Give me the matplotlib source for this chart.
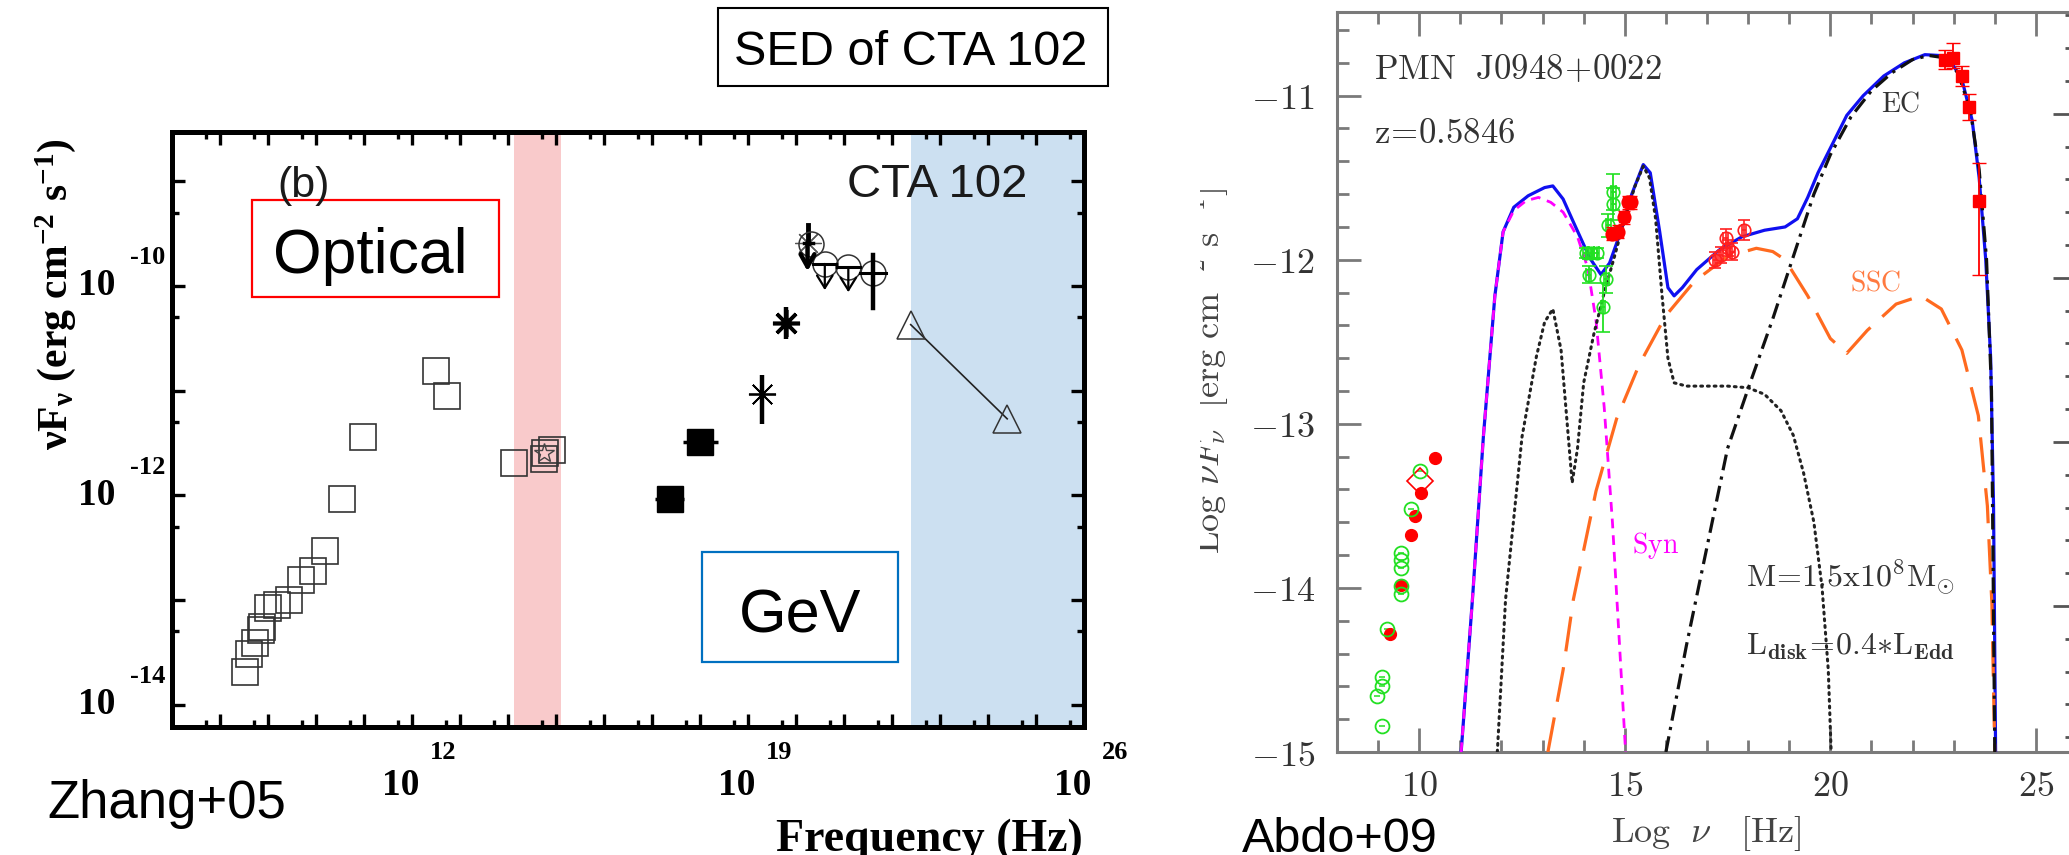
import numpy as np
import matplotlib
matplotlib.use("Agg")
import matplotlib.pyplot as plt
from matplotlib.patches import Rectangle
from matplotlib.ticker import FixedLocator, NullFormatter
from matplotlib.transforms import offset_copy, Bbox

plt.rcParams['mathtext.fontset'] = 'custom'
plt.rcParams['mathtext.bf'] = 'Liberation Serif:bold'
plt.rcParams['mathtext.rm'] = 'Liberation Serif:bold'
plt.rcParams['mathtext.it'] = 'Liberation Serif:bold'

# ---------------- left panel data (log10 nu, log10 nuFnu) ----------------
sq_lx = [8.53, 8.60, 8.72, 8.85, 8.87, 9.01, 9.19, 9.44, 9.68, 9.94, 10.19,
         10.54, 10.97, 12.49, 12.73, 14.13, 14.74, 14.78, 14.92]
sq_ly = [-13.69, -13.52, -13.41, -13.29, -13.26, -13.08, -13.05, -13.00, -12.81,
         -12.72, -12.53, -12.04, -11.44, -10.81, -11.05, -11.69, -11.65, -11.60, -11.57]
star_lx, star_ly = [14.74], [-11.60]

xsq_lx = [17.37, 18.01]
xsq_ly = [-12.04, -11.49]
xsq_dx = [0.30, 0.36]

ast_lx = [19.30, 19.80]
ast_ly = [-11.03, -10.35]
ast_up = [0.18, 0.15]
ast_dn = [0.29, 0.16]
ast_mew = [1.3, 2.6]

faint_lx, faint_ly = 20.24, -9.59
faint_top, faint_end = -9.42, -9.86

circ_lx = [20.31, 20.60, 21.09, 21.61]
circ_ly = [-9.60, -9.79, -9.82, -9.88]
ul_lx = [20.60, 21.09]
ul_from = [-9.79, -9.82]
ul_to = [-10.04, -10.06]
circ_dx = [0.0, 0.24, 0.24, 0.27]
c4_up, c4_dn = 0.18, 0.33

tri_lx = [22.39, 24.40]
tri_ly = [-10.37, -11.27]

opt_band = (14.117, 15.106)
gev_band = (22.39, 26.0)

x_label_exp = [12, 19, 26]
y_label_exp = [-10, -12, -14]

# ---------------- right panel data (Abdo+09) ----------------
tot_x = [11.02, 11.3, 11.56, 11.84, 12.04, 12.3, 12.65, 13.05, 13.25, 13.5, 13.75,
         14.15, 14.42, 14.63, 14.9, 15.17, 15.45, 15.62, 15.85, 16.05, 16.2, 16.4,
         16.75, 17.3, 17.85, 18.4, 18.9, 19.2, 19.45, 19.7, 20.0, 20.4, 20.8, 21.3,
         21.8, 22.3, 22.65, 22.95, 23.2, 23.45, 23.62, 23.78, 23.9, 23.97, 24.02]
tot_y = [-15.0, -14.05, -13.08, -12.22, -11.83, -11.68, -11.61, -11.56, -11.55,
         -11.63, -11.77, -11.99, -12.09, -12.02, -11.83, -11.6, -11.42, -11.47,
         -11.83, -12.17, -12.22, -12.17, -12.06, -11.94, -11.86, -11.82, -11.8,
         -11.75, -11.62, -11.47, -11.32, -11.12, -11.0, -10.88, -10.8, -10.75,
         -10.755, -10.8, -10.9, -11.15, -11.5, -12.0, -12.6, -13.5, -15.0]

syn_x = [11.02, 11.3, 11.56, 11.84, 12.04, 12.3, 12.6, 12.9, 13.2, 13.5, 13.85,
         14.1, 14.3, 14.5, 14.7, 14.85, 15.02]
syn_y = [-15.0, -14.05, -13.08, -12.22, -11.83, -11.7, -11.64, -11.62, -11.65,
         -11.71, -11.86, -12.05, -12.37, -12.9, -13.6, -14.25, -15.0]

disk_x = [11.9, 12.1, 12.5, 12.85, 13.05, 13.25, 13.45, 13.6, 13.72, 13.85, 14.0,
          14.25, 14.5, 14.75, 15.0, 15.25, 15.45, 15.6, 15.75, 15.9, 16.05, 16.2,
          16.5, 17.0, 17.5, 18.0, 18.4, 18.8, 19.1, 19.35, 19.6, 19.8, 19.95, 20.02]
disk_y = [-15.0, -14.07, -13.08, -12.59, -12.38, -12.3, -12.55, -13.0, -13.36,
          -13.15, -12.75, -12.45, -12.2, -11.98, -11.75, -11.55, -11.43, -11.5,
          -11.75, -12.2, -12.6, -12.75, -12.77, -12.77, -12.77, -12.78, -12.82,
          -12.92, -13.07, -13.3, -13.6, -14.0, -14.5, -15.0]

ssc_x = [13.13, 13.5, 13.75, 14.3, 14.8, 15.35, 16.0, 16.7, 17.5, 18.2, 18.6,
         18.9, 19.45, 20.0, 20.4, 20.9, 21.6, 22.2, 22.7, 23.2, 23.6, 23.82, 23.93, 24.0]
ssc_y = [-15.0, -14.5, -14.07, -13.41, -12.97, -12.64, -12.34, -12.13, -11.98,
         -11.93, -11.95, -12.0, -12.22, -12.48, -12.57, -12.43, -12.27, -12.22,
         -12.3, -12.55, -12.95, -13.5, -14.1, -15.0]

ec_x = [16.0, 16.5, 17.0, 17.5, 18.05, 18.6, 19.1, 19.6, 20.0, 20.5, 21.0, 21.5,
        22.0, 22.4, 22.8, 23.1, 23.4, 23.62, 23.8, 23.92, 24.0]
ec_y = [-15.0, -14.35, -13.75, -13.15, -12.75, -12.36, -11.98, -11.6, -11.36,
        -11.13, -10.97, -10.86, -10.78, -10.755, -10.77, -10.86, -11.08, -11.45,
        -12.0, -12.8, -15.0]

rg_x = [8.98, 9.09, 9.09, 9.09, 9.22, 9.55, 9.55, 9.55, 9.55, 9.55, 9.80, 10.01]
rg_y = [-14.66, -14.84, -14.60, -14.54, -14.25, -14.04, -13.99, -13.88, -13.83,
        -13.79, -13.52, -13.29]
rr_x = [9.29, 9.55, 9.80, 9.90, 10.04, 10.38]
rr_y = [-14.28, -13.98, -13.68, -13.56, -13.42, -13.21]
dia_x, dia_y = [10.01], [-13.35]

og_x = [14.05, 14.18, 14.32, 14.12, 14.55, 14.47, 14.72, 14.72, 14.60]
og_y = [-11.96, -11.96, -11.96, -12.09, -12.12, -12.29, -11.585, -11.66, -11.79]
og_e = [0.03, 0.03, 0.03, 0.05, 0.08, 0.15, 0.11, 0.10, 0.07]

uv_x = [14.69, 14.83, 14.97, 15.07, 15.14]
uv_y = [-11.84, -11.83, -11.74, -11.65, -11.65]

xr_x = [17.2, 17.35, 17.45, 17.52, 17.62, 17.9]
xr_y = [-12.0, -11.97, -11.87, -11.93, -11.95, -11.82]
xr_e = [0.05, 0.05, 0.06, 0.05, 0.05, 0.06]

lat_x = [22.8, 22.98, 23.2, 23.38, 23.62]
lat_y = [-10.78, -10.77, -10.88, -11.07, -11.64]
lat_up = [0.06, 0.09, 0.06, 0.08, 0.23]
lat_dn = [0.06, 0.06, 0.06, 0.08, 0.45]

r_xticks = [10, 15, 20, 25]
r_yticks = [-15, -14, -13, -12, -11]

W, H = 2069, 855


def fx(x):
    return x / W


def fy(y):
    return 1 - y / H


def p(v):
    return 10.0 ** np.asarray(v, dtype=float)


fig = plt.figure(figsize=(W / 100, H / 100), dpi=100)

# ======================= left panel =======================
ax1 = fig.add_axes([fx(172), fy(727), (1084 - 172) / W, (727 - 132) / H])
ax1.set_xscale('log')
ax1.set_yscale('log')
ax1.set_xlim(1e7, 1e26)
ax1.set_ylim(10 ** -14.215, 10 ** -8.529)
ax1.axvspan(p(opt_band[0]), p(opt_band[1]), color='#F9CACB', lw=0, zorder=0)
ax1.axvspan(p(gev_band[0]), p(gev_band[1]), color='#CCE0F1', lw=0, zorder=0)

ax1.plot(p(sq_lx), p(sq_ly), 's', ms=18.7, mfc='none', mec='#333333', mew=1.2)
ax1.plot(p(star_lx), p(star_ly), '*', ms=15, mfc='none', mec='#444444', mew=1.0)

xl = np.array(xsq_lx)
ax1.errorbar(p(xl), p(xsq_ly),
             xerr=[p(xl) - p(xl - np.array(xsq_dx)), p(xl + np.array(xsq_dx)) - p(xl)],
             fmt='s', ms=18.5, color='black', elinewidth=2.5, capsize=0)

for lx, ly, up, dn, mw in zip(ast_lx, ast_ly, ast_up, ast_dn, ast_mew):
    ax1.errorbar([p(lx)], [p(ly)], yerr=[[p(ly) - p(ly - dn)], [p(ly + up) - p(ly)]],
                 fmt='none', ecolor='black', elinewidth=3.2, capsize=0)
    ax1.plot([p(lx)], [p(ly)], marker=(8, 2, 0), ms=19.5, color='black', mew=mw, ls='none')

ax1.plot([p(faint_lx)], [p(faint_ly)], marker=(8, 2, 0), ms=19, color='#555555', mew=0.9)
ax1.plot([p(faint_lx)] * 2, [p(faint_top), p(faint_ly)], color='black', lw=3.5)
ax1.annotate('', xy=(p(faint_lx), p(faint_end)), xytext=(p(faint_lx), p(faint_ly)),
             arrowprops=dict(arrowstyle='->,head_length=0.45,head_width=0.25', lw=3.2,
                             color='black', shrinkA=0, shrinkB=0, mutation_scale=20))
ax1.plot([p(faint_lx) / 10 ** 0.08, p(faint_lx) * 10 ** 0.12], [p(faint_ly)] * 2, color='black', lw=2.5)

ax1.plot(p(circ_lx), p(circ_ly), 'o', ms=18, mfc='none', mec='#333333', mew=1.1)
for lx, ly, dx in zip(circ_lx, circ_ly, circ_dx):
    if dx > 0:
        ax1.plot([p(lx - dx), p(lx + dx)], [p(ly)] * 2, color='black', lw=2.2)
for lx, y0, y1 in zip(ul_lx, ul_from, ul_to):
    ax1.annotate('', xy=(p(lx), p(y1)), xytext=(p(lx), p(y0)),
                 arrowprops=dict(arrowstyle='->,head_length=0.45,head_width=0.28', lw=1.6,
                                 color='black', shrinkA=0, shrinkB=0, mutation_scale=20))
ax1.plot([p(circ_lx[3])] * 2, [p(circ_ly[3] - c4_dn), p(circ_ly[3] + c4_up)], color='black', lw=3.2)

ax1.plot(p(tri_lx), p(tri_ly), '-', color='#222222', lw=1.2)
ax1.plot(p(tri_lx), p(tri_ly), '^', ms=19.5, mfc='none', mec='#333333', mew=1.1, ls='none')

ax1.xaxis.set_major_locator(FixedLocator(p(np.arange(7, 27))))
ax1.xaxis.set_minor_locator(FixedLocator(5 * p(np.arange(6, 26))))
ax1.yaxis.set_major_locator(FixedLocator(p(np.arange(-15, -7))))
ax1.yaxis.set_minor_locator(FixedLocator(5 * p(np.arange(-16, -8))))
ax1.xaxis.set_major_formatter(NullFormatter())
ax1.xaxis.set_minor_formatter(NullFormatter())
ax1.yaxis.set_major_formatter(NullFormatter())
ax1.yaxis.set_minor_formatter(NullFormatter())
ax1.tick_params(which='both', direction='in', top=True, right=True, width=2.4, color='black')
ax1.tick_params(which='major', length=9.5)
ax1.tick_params(which='minor', length=5)
for s in ax1.spines.values():
    s.set_linewidth(3.6)

serif_b = dict(family='Liberation Serif', fontweight='bold', color='black')
xtr = ax1.get_xaxis_transform()
for e in x_label_exp:
    ax1.text(p(e), 0, '10', transform=offset_copy(xtr, fig=fig, x=-11, y=-58, units='dots'),
             ha='center', va='center', fontsize=27, clip_on=False, **serif_b)
    ax1.text(p(e), 0, str(e), transform=offset_copy(xtr, fig=fig, x=31, y=-25, units='dots'),
             ha='center', va='center', fontsize=19, clip_on=False, **serif_b)
ytr = ax1.get_yaxis_transform()
for e in y_label_exp:
    ax1.text(0, p(e), '10', transform=offset_copy(ytr, fig=fig, x=-75, y=0, units='dots'),
             ha='center', va='center', fontsize=27, clip_on=False, **serif_b)
    ax1.text(0, p(e), str(e), transform=offset_copy(ytr, fig=fig, x=-24, y=28, units='dots'),
             ha='center', va='center', fontsize=19, clip_on=False, **serif_b)

fig.text(fx(56), fy(294), r'$\mathbf{\nu F_{\nu}}$ $\mathbf{(erg\ cm^{-2}\ s^{-1})}$',
         rotation=90, ha='center', va='center', fontsize=30, **serif_b)
fig.text(fx(1083), fy(851), 'Frequency (Hz)', ha='right', va='baseline', fontsize=33, **serif_b)

sans = dict(family='Liberation Sans')
fig.text(fx(47), fy(818), 'Zhang+05', ha='left', va='baseline', fontsize=38, color='black', **sans)
fig.add_artist(Rectangle((fx(717.6), fy(86.2)), (1108.2 - 717.6) / W, (86.2 - 8.2) / H,
                         transform=fig.transFigure, fill=False, ec='black', lw=1.5))
fig.text(fx(911), fy(65.4), 'SED of CTA 102', ha='center', va='baseline', fontsize=35, color='black', **sans)
fig.add_artist(Rectangle((fx(251.7), fy(296.8)), (499 - 251.7) / W, (296.8 - 199.6) / H,
                         transform=fig.transFigure, fill=False, ec='#FF0000', lw=1.6))
fig.text(fx(370), fy(273), 'Optical', ha='center', va='baseline', fontsize=45, color='black', **sans)
fig.add_artist(Rectangle((fx(701.7), fy(661.5)), (898.3 - 701.7) / W, (661.5 - 551.7) / H,
                         transform=fig.transFigure, fill=False, ec='#0070C0', lw=1.6))
fig.text(fx(800), fy(632.8), 'GeV', ha='center', va='baseline', fontsize=44, color='black', **sans)
fig.text(fx(1027), fy(196.5), 'CTA 102', ha='right', va='baseline', fontsize=34, color='#1a1a1a', **sans)
fig.text(fx(304), fy(186), '(b)', ha='center', va='center', fontsize=31, color='#1a1a1a', **sans)

# ======================= right panel =======================
ax2 = fig.add_axes([fx(1337), fy(752), (2077 - 1337) / W, (752 - 12) / H])
ax2.set_xlim(8, 26)
ax2.set_ylim(-15, -10.49)

ax2.plot(tot_x, tot_y, color='#1010F0', lw=2.3, zorder=3)
ax2.plot(syn_x, syn_y, color='#FF00FF', lw=2.0, dashes=(3.5, 2.5), zorder=4)
ax2.plot(disk_x, disk_y, color='#222222', lw=2.2, dashes=(0.6, 1.6), dash_capstyle='round', zorder=4)
ax2.plot(ssc_x, ssc_y, color='#FF6A1F', lw=2.3, dashes=(11, 5), zorder=4)
ax2.plot(ec_x, ec_y, color='#111111', lw=2.3, dashes=(5, 2, 1, 2), zorder=4)

ax2.errorbar(rg_x, rg_y, xerr=0.07, fmt='o', ms=10, mfc='none', mec='#22E022', ecolor='#22E022',
             mew=1.3, elinewidth=1.1, capsize=0, zorder=5)
ax2.plot(rr_x, rr_y, 'o', ms=8.5, color='#FF0000', zorder=5)
ax2.plot(dia_x, dia_y, 'D', ms=13, mfc='none', mec='#FF0000', mew=1.2, zorder=5)
ax2.errorbar(og_x, og_y, yerr=og_e, xerr=0.06, fmt='o', ms=9, mfc='none', mec='#22E022',
             ecolor='#22E022', mew=1.2, elinewidth=1.3, capsize=5, zorder=5)
ax2.errorbar(uv_x, uv_y, yerr=0.04, xerr=0.05, fmt='s', ms=7, color='#FF0000', mfc='#FF0000',
             elinewidth=1.2, capsize=4, zorder=6)
ax2.plot(uv_x, uv_y, 'o', ms=9, mfc='none', mec='#FF0000', mew=1.2, zorder=6)
ax2.errorbar(xr_x, xr_y, yerr=xr_e, xerr=0.05, fmt='o', ms=9, mfc='none', mec='#FF2020',
             ecolor='#FF2020', mew=1.2, elinewidth=1.2, capsize=4, zorder=6)
ax2.errorbar(lat_x, lat_y, yerr=[lat_dn, lat_up], fmt='s', ms=8, color='#FF0000',
             elinewidth=1.3, capsize=5, zorder=6)

gray = '#7a7a7a'
for s in ax2.spines.values():
    s.set_color(gray)
    s.set_linewidth(2.2)
ax2.set_xticks(r_xticks)
ax2.set_xticks(np.arange(8, 27), minor=True)
ax2.set_yticks(r_yticks)
ax2.set_yticks(np.arange(-15, -10.4, 0.2), minor=True)
ax2.set_xticklabels([r'$%d$' % v for v in r_xticks], fontsize=26, color='#333333', math_fontfamily='cm')
ax2.set_yticklabels([r'$%d$' % v for v in r_yticks], fontsize=26, color='#333333', math_fontfamily='cm')
ax2.tick_params(which='both', direction='in', top=True, right=False, color=gray, width=2.0)
ax2.tick_params(which='major', length=17)
ax2.tick_params(which='minor', length=8.5)
ax2.tick_params(axis='x', pad=12)
ax2.tick_params(axis='y', pad=16)

ax3 = ax2.twinx()
ax3.set_ylim(-15, -10.49)
ax3.set_yticks(np.arange(-14.11, -10.4, 1.0))
ax3.set_yticks(np.arange(-14.91, -10.4, 0.2), minor=True)
ax3.set_yticklabels([])
ax3.tick_params(which='both', direction='in', color='#555555', width=2.0)
ax3.tick_params(which='major', length=17)
ax3.tick_params(which='minor', length=8.5)
for s in ax3.spines.values():
    s.set_visible(False)

cmt = dict(math_fontfamily='cm', color='#333333')
ax2.text(8.91, -10.84, r'$\mathrm{PMN\ \ J0948\!+\!0022}$', fontsize=25, ha='left', va='center', **cmt)
ax2.text(8.91, -11.23, r'$\mathrm{z\!=\!0.5846}$', fontsize=25, ha='left', va='center', **cmt)
ax2.text(21.7, -11.05, r'$\mathrm{EC}$', fontsize=20, ha='center', va='center', **cmt)
ax2.text(21.1, -12.14, r'$\mathrm{SSC}$', fontsize=20, ha='center', va='center',
         math_fontfamily='cm', color='#FF7A40')
ax2.text(15.75, -13.74, r'$\mathrm{Syn}$', fontsize=20, ha='center', va='center',
         math_fontfamily='cm', color='#FF00FF')
ax2.text(17.96, -13.93, r'$\mathrm{M\!=\!1.5x10^8M_{\odot}}$', fontsize=23, ha='left', va='center', **cmt)
ax2.text(17.96, -14.36, r'$\mathrm{L_{\mathbf{disk}}\!=\!0.4{*}L_{\mathbf{Edd}}}$', fontsize=23,
         ha='left', va='center', **cmt)

ylab = fig.text(fx(1209), fy(371), r'$\mathrm{Log}\ \nu F_{\nu}\ \ [\mathrm{erg\ cm^{-2}\ s^{-1}}]$',
                rotation=90, ha='center', va='center', fontsize=26, math_fontfamily='cm', color='#444444')
ylab.set_clip_box(Bbox.from_extents(1200, 0, W, H))
ylab.set_clip_on(True)
fig.text(fx(1706), fy(833), r'$\mathrm{Log}\ \ \nu\ \ \ [\mathrm{Hz}]$', ha='center', va='center',
         fontsize=26, math_fontfamily='cm', color='#444444')
fig.text(fx(1242), fy(852), 'Abdo+09', ha='left', va='baseline', fontsize=35, color='black', **sans)

fig.savefig('out.png', dpi=100)
